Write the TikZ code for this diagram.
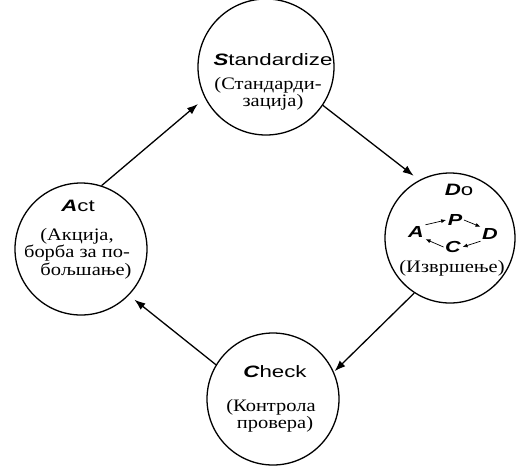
\documentclass[tikz,border=0pt]{standalone}
\usepackage{fontspec}
\setmainfont{Liberation Serif}[FakeStretch=1.17]
\newfontfamily\headfont{Liberation Sans}[FakeStretch=1.35]
\usetikzlibrary{arrows.meta}

\newcommand{\ini}[1]{{\bfseries\itshape #1}}

\begin{document}
\begin{tikzpicture}[
    x=1pt, y=-1pt,
    stage/.style={
        circle,
        draw=black,
        line width=1.3pt,
        inner sep=0pt
    },
    title/.style={
        anchor=base,
        inner sep=0pt,
        font=\headfont\fontsize{16.5}{18}\selectfont
    },
    note/.style={
        anchor=base,
        inner sep=0pt,
        align=center,
        font=\fontsize{17.5}{15.5}\selectfont
    },
    pdca/.style={
        inner sep=1.5pt,
        font=\headfont\bfseries\itshape\fontsize{16}{17}\selectfont
    },
    arrow/.style={-{Latex[length=11pt,width=8pt]}, line width=1.3pt},
    small arrow/.style={-{Latex[length=5pt,width=4pt]}, line width=0.7pt}
]
\useasboundingbox (0,0) rectangle (516,469);

% the four stages
\node[stage, minimum size=136pt] (std) at (266,67) {};
\node[stage, minimum size=130pt] (do) at (450,238) {};
\node[stage, minimum size=132pt] (check) at (273,399) {};
\node[stage, minimum size=132pt] (act) at (81,249) {};

% texts (notes sit on the baseline of their last line)
\node[title] (stdT) at (273,65) {\ini{S}tandardize};
\node[note] (stdN) at (268,106) {(Стандарди-\\\hspace*{10pt}зација)};

\node[title] (doT) at (459,195) {\ini{D}o};
\node[note] (doN) at (452,272) {(Извршење)};

\node[title] (checkT) at (275,377) {\ini{C}heck};
\node[note] (checkN) at (271,428) {(Контрола\\\hspace*{8pt}провера)};

\node[title] (actT) at (78,211) {\ini{A}ct};
\node[note] (actN) at (77,275) {(Акција,\\борба за по-\\\hspace*{18pt}бољшање)};

% small cycle inside Do
\node[pdca] (pP) at (455,220) {P};
\node[pdca] (pA) at (416,232) {A};
\node[pdca] (pD) at (490,234) {D};
\node[pdca] (pC) at (453,247) {C};

\draw[small arrow] (pA.north east) -- (pP.west);
\draw[small arrow] (pP.east) -- (pD.north west);
\draw[small arrow] (pD.south west) -- (pC.east);
\draw[small arrow] (pC.west) -- (pA.south east);

% arrows between stages
\draw[arrow, shorten >=9pt] (act.72) -- (std.207);
\draw[arrow, shorten >=7pt] (std.326) -- (do.118);
\draw[arrow, shorten >=1pt] (do.237) -- (check.24);
\draw[arrow, shorten >=7pt] (check.149) -- (act.316);

\end{tikzpicture}
\end{document}
